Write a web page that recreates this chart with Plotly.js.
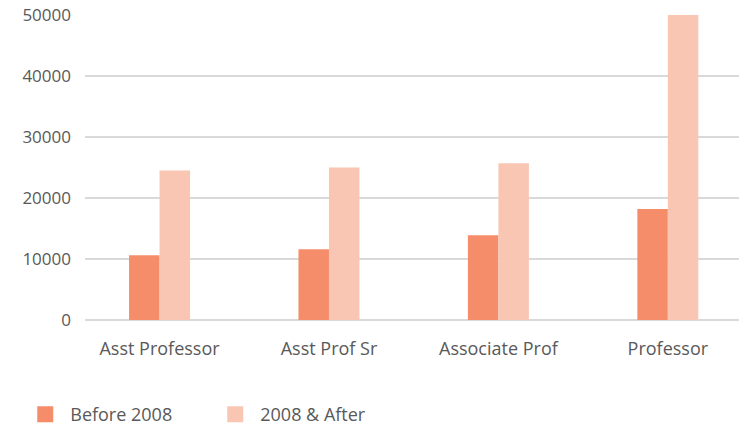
<!DOCTYPE html>
<html><head><meta charset="utf-8">
<script src="https://cdn.plot.ly/plotly-3.0.1.min.js"></script>
<style>html,body{margin:0;padding:0;background:#fff}</style>
</head><body>
<div id="chart" style="width:739px;height:426px"></div>
<script>
const categories = ["Asst Professor", "Asst Prof Sr", "Associate Prof", "Professor"];
const before2008 = [10600, 11600, 13900, 18200];
const after2008 = [24500, 25000, 25700, 50000];
const seriesNames = ["Before 2008", "2008 & After"];
const seriesColors = ["#F68D6A", "#F8C6B3"];
const yTicks = [0, 10000, 20000, 30000, 40000, 50000];

const fam = "Open Sans, sans-serif";
const data = [
  {type: "bar", name: seriesNames[0], x: categories, y: before2008, marker: {color: seriesColors[0]}, showlegend: false},
  {type: "bar", name: seriesNames[1], x: categories, y: after2008, marker: {color: seriesColors[1]}, showlegend: false},
  // legend swatches only
  {type: "scatter", mode: "markers", name: seriesNames[0], x: [null], y: [null],
   marker: {symbol: "square", size: 22, color: seriesColors[0]}, hoverinfo: "skip"},
  {type: "scatter", mode: "markers", name: seriesNames[1], x: [null], y: [null],
   marker: {symbol: "square", size: 22, color: seriesColors[1]}, hoverinfo: "skip"}
];
const layout = {
  width: 739, height: 426,
  margin: {l: 85, r: 0, t: 15, b: 106, autoexpand: false},
  paper_bgcolor: "#fff", plot_bgcolor: "#fff",
  font: {family: fam, size: 16, color: "#595959"},
  barmode: "group", bargap: 0.64, bargroupgap: 0,
  showlegend: true,
  legend: {orientation: "h", x: -0.099, xanchor: "left", y: -0.31, yanchor: "middle",
           font: {family: fam, size: 18, color: "#595959"}, itemwidth: 40, itemsizing: "trace",
           entrywidth: 135, entrywidthmode: "pixels", traceorder: "normal"},
  xaxis: {type: "category", range: [-0.44, 3.42], showgrid: false, zeroline: false, showline: false,
          ticks: "", tickfont: {family: fam, size: 18, color: "#595959"}, ticklabelstandoff: 16},
  yaxis: {range: [0, 50000], tickvals: yTicks, ticktext: yTicks.map(String), showgrid: true,
          gridcolor: "#d9d9d9", gridwidth: 2, zeroline: true, zerolinecolor: "#d9d9d9", zerolinewidth: 2,
          showline: false, ticks: "",
          tickfont: {family: fam, size: 17, color: "#595959"}, ticklabelstandoff: 13}
};
Plotly.newPlot("chart", data, layout, {displayModeBar: false, staticPlot: true});
</script>
</body></html>
